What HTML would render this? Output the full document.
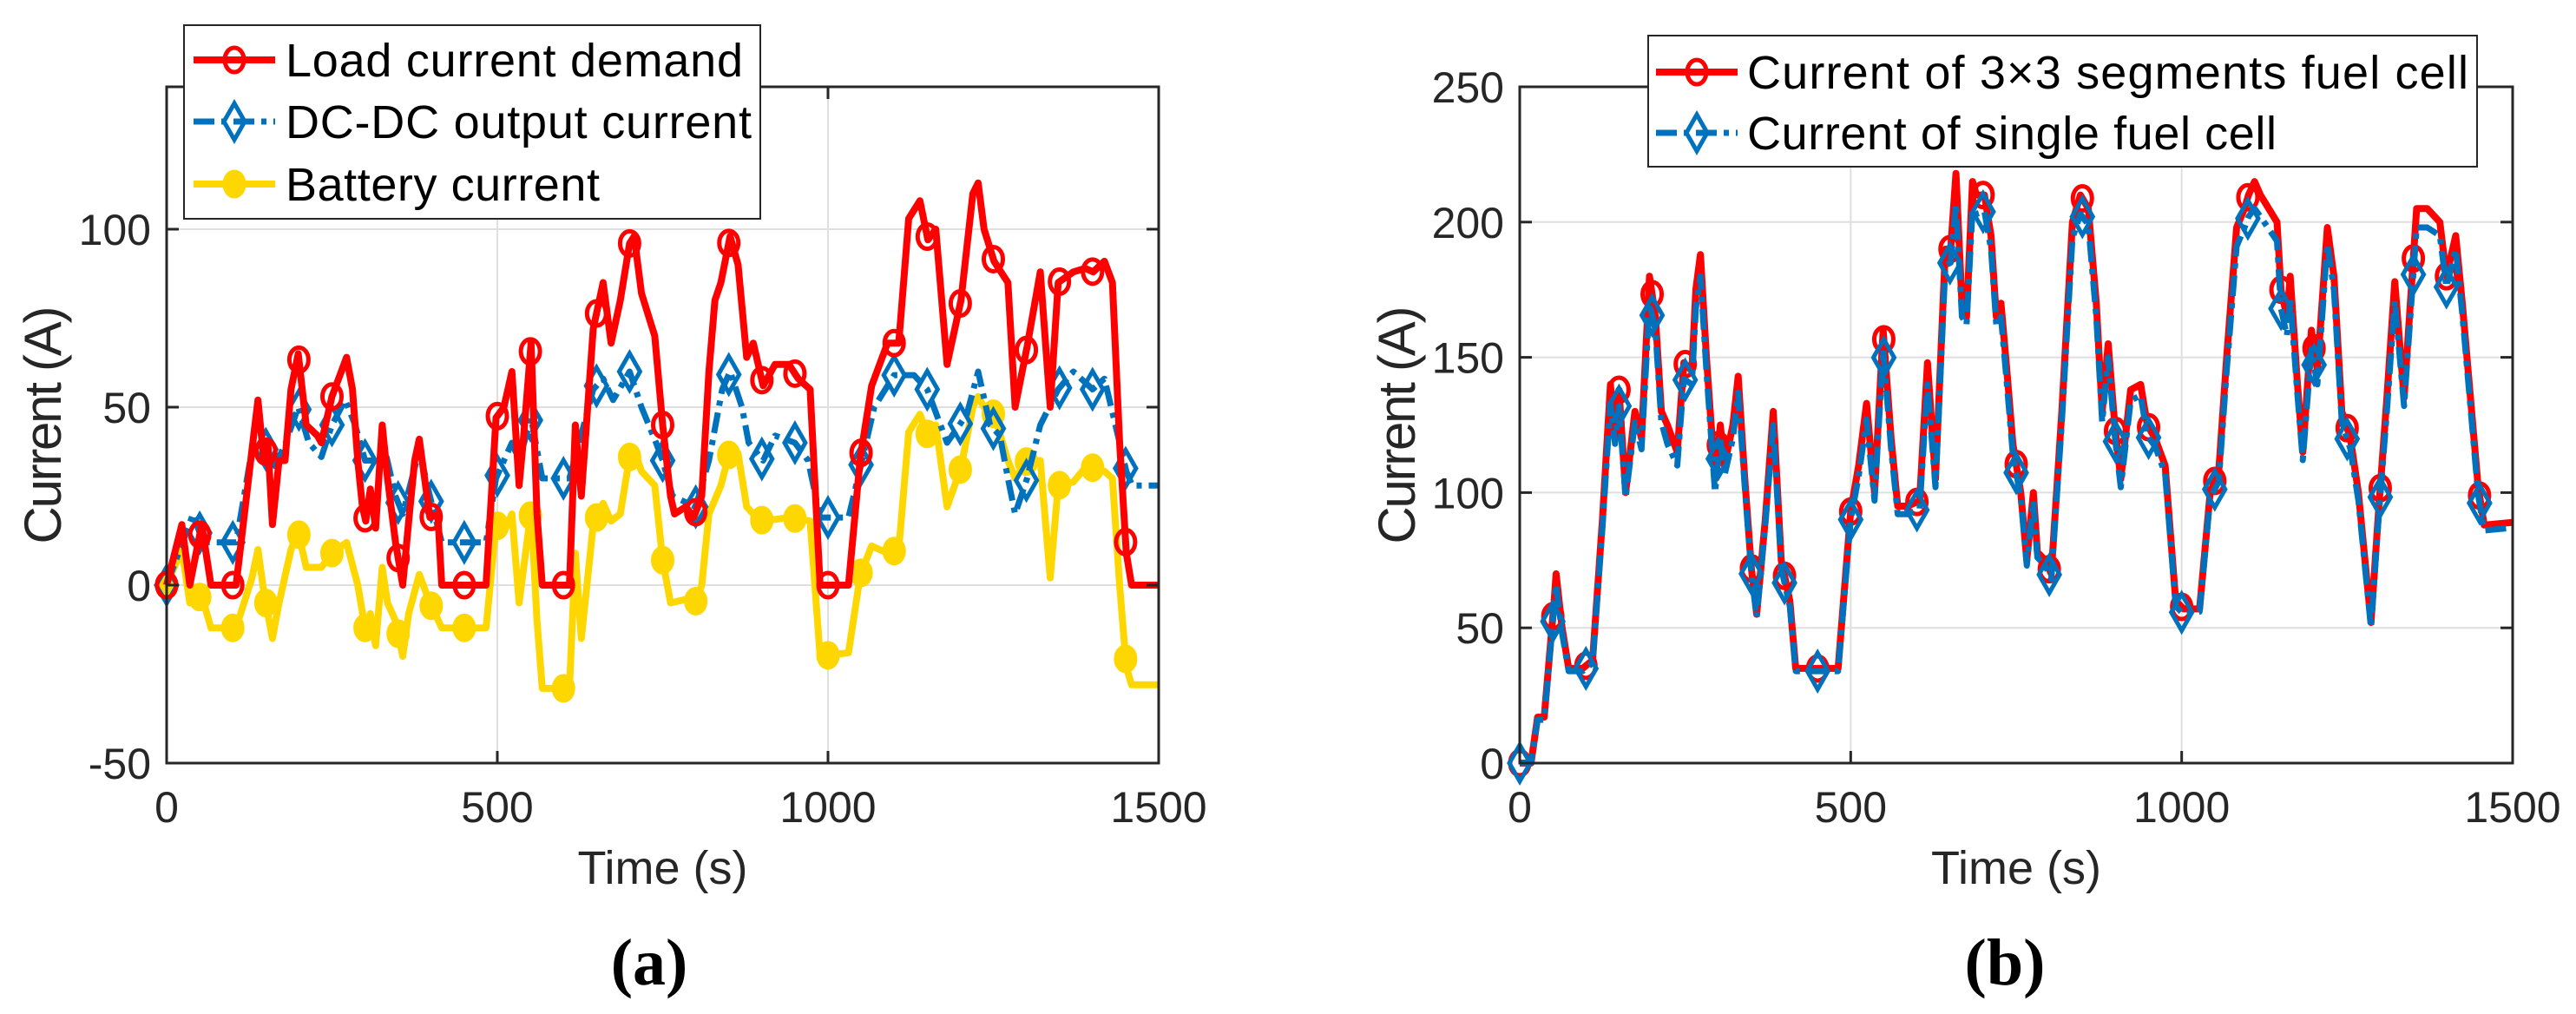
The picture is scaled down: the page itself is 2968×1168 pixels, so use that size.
<!DOCTYPE html>
<html><head><meta charset="utf-8"><style>
html,body{margin:0;padding:0;background:#fff}
svg{display:block}
text{font-family:"Liberation Sans",sans-serif;fill:#262626}
</style></head><body>
<svg id="fig" width="2968" height="1168" viewBox="0 0 2968 1168" xmlns="http://www.w3.org/2000/svg">
<g id="pa"></g>
<g id="pb"></g>
<text x="748" y="1134" text-anchor="middle" font-weight="bold" font-size="76" style="font-family:'Liberation Serif',serif;fill:#000">(a)</text>
<text x="2310" y="1134" text-anchor="middle" font-weight="bold" font-size="76" style="font-family:'Liberation Serif',serif;fill:#000">(b)</text>
</svg>
<script>
// ---- Panel (a) data ----
const loadT=[0,23,35,53,67,105,129,138,147,153,160,170,179,188,199,211,228,234,250,264,272,281,289,296,301,308,316,326,334,346,357,366,375,382,390,398,410,416,483,498,510,522,533,539,551,560,568,609,618,627,645,660,672,686,700,707,718,738,750,762,768,785,797,809,820,829,838,852,864,877,887,902,920,941,955,973,988,1031,1049,1066,1090,1107,1122,1139,1151,1163,1180,1201,1219,1227,1236,1251,1272,1283,1301,1321,1336,1348,1371,1389,1401,1418,1430,1441,1451,1459,1500];
const loadV=[0,17,0,17,0,0,38,52,35,40,17,35,35,55,65,45,42,40,53,60,64,55,35,22,18,27,16,45,30,12,0,18,35,41,30,19,20,0,0,47,50,60,28,40,68,20,0,0,45,25,72,85,68,80,96,98,82,70,45,25,20,22,19,25,60,80,85,98,90,64,68,56,62,62,58,55,0,0,36,56,68,68,103,108,97,100,62,80,110,113,100,91,85,50,67,88,50,85,88,89,88,91,85,40,9,0,0];
const dcT=[0,40,55,105,129,147,160,180,199,215,234,250,270,285,300,316,330,346,357,382,398,416,483,498,510,522,533,551,568,609,618,645,660,675,700,718,740,750,765,800,820,840,852,870,880,902,920,950,970,988,1031,1049,1070,1100,1130,1150,1180,1210,1227,1245,1260,1272,1283,1301,1321,1348,1371,1400,1418,1441,1451,1460,1500];
const dcV=[0,20,12,12,38,40,32,40,50,40,36,45,52,45,35,35,38,25,20,38,25,12,12,30,35,40,35,47,30,30,36,55,58,52,60,50,40,35,25,22,35,55,60,50,40,35,42,40,35,19,19,33,50,59,59,55,40,48,60,45,42,30,20,30,45,55,60,55,58,40,32,28,28];
const batT=[0,23,35,53,67,105,129,138,147,160,170,188,199,211,234,250,272,289,300,308,316,326,334,346,357,366,382,398,416,483,498,510,522,533,551,560,568,609,618,627,645,660,672,686,700,707,718,738,750,762,785,797,809,820,838,852,864,877,887,902,941,973,988,1031,1049,1066,1090,1107,1122,1139,1151,1163,1180,1201,1219,1227,1236,1251,1272,1283,1301,1321,1336,1348,1371,1389,1401,1418,1430,1441,1451,1459,1500];
const batV=[0,10,-5,-3,-12,-12,2,10,-2,-15,-5,10,15,5,5,9,12,0,-12,-8,-17,5,-5,-10,-20,-8,3,-5,-12,-12,17,15,20,-5,21,-10,-29,-29,9,-15,17,23,18,20,36,38,32,28,7,-5,-4,-6,0,20,28,38,37,22,20,18,19,18,-20,-19,3,11,9,10,43,48,42,45,22,33,50,53,50,48,35,30,35,35,2,28,29,33,33,32,30,0,-23,-28,-28];
const aXTicks=[0,500,1000,1500];
const aYTicks=[-50,0,50,100];
const aXLabels=["0","500","1000","1500"];
const aYLabels=["-50","0","50","100"];
// ---- Panel (b) data ----
const bT=[0,17,27,37,52,55,64,74,95,110,125,137,144,150,160,174,184,196,205,214,223,238,248,260,266,273,282,295,303,309,322,330,340,350,358,371,383,395,408,417,469,481,500,512,524,536,549,561,571,586,604,616,628,643,651,659,668,675,684,690,702,712,720,727,736,745,757,766,776,782,794,803,819,835,847,859,871,880,889,899,908,923,938,948,960,975,991,1003,1027,1043,1056,1068,1083,1095,1101,1110,1119,1144,1150,1159,1164,1175,1183,1196,1205,1220,1230,1242,1255,1267,1286,1298,1310,1322,1336,1355,1371,1390,1400,1414,1424,1448,1457,1500];
const segV=[0,0,17,17,60,70,50,35,35,38,90,140,120,138,100,130,120,180,165,130,125,115,148,145,175,188,150,105,125,110,125,143,105,72,55,90,130,75,60,35,35,35,93,110,133,100,160,120,95,95,97,148,105,190,190,218,170,165,215,210,210,195,165,170,145,118,100,75,100,78,75,70,130,200,210,205,170,130,155,125,105,138,140,125,120,110,60,57,57,100,108,150,198,205,210,215,210,200,175,165,180,140,115,160,145,198,180,130,120,100,52,95,135,178,135,205,205,200,180,195,170,102,88,89];
const singleV=[0,0,16,16,58,66,48,34,34,37,87,133,118,132,98,126,116,170,160,126,118,110,142,140,168,180,145,100,120,106,120,137,102,70,54,88,125,72,58,34,34,34,90,106,127,97,153,116,92,92,94,140,102,184,185,207,165,162,205,203,204,190,162,165,140,114,98,73,97,76,73,68,126,194,203,199,165,126,150,121,102,134,136,121,117,107,58,55,56,98,104,145,191,198,202,205,202,193,168,158,172,136,112,153,140,192,175,126,116,97,50,92,130,171,132,198,198,195,176,190,166,99,86,87];
const bXTicks=[0,500,1000,1500];
const bYTicks=[0,50,100,150,200,250];
const bXLabels=["0","500","1000","1500"];
const bYLabels=["0","50","100","150","200","250"];

const NS="http://www.w3.org/2000/svg";
function mk(parent,tag,attrs){const e=document.createElementNS(NS,tag);for(const k in attrs)e.setAttribute(k,attrs[k]);parent.appendChild(e);return e;}
function interp(T,V,t){for(let i=0;i<T.length-1;i++){if(t>=T[i]&&t<=T[i+1]){const f=(t-T[i])/((T[i+1]-T[i])||1);return V[i]+f*(V[i+1]-V[i]);}}return V[V.length-1];}

function axes(g,cfg){
  const sx=v=>cfg.x0+(v-cfg.xmin)/(cfg.xmax-cfg.xmin)*(cfg.x1-cfg.x0);
  const sy=v=>cfg.y1-(v-cfg.ymin)/(cfg.ymax-cfg.ymin)*(cfg.y1-cfg.y0);
  const grid=mk(g,'g',{});
  
  
  cfg.xt.forEach(v=>{mk(grid,'line',{x1:sx(v),x2:sx(v),y1:cfg.y0,y2:cfg.y1,stroke:'#dfdfdf','stroke-width':2});});
  cfg.yt.forEach(v=>{mk(grid,'line',{x1:cfg.x0,x2:cfg.x1,y1:sy(v),y2:sy(v),stroke:'#dfdfdf','stroke-width':2});});
  return {sx,sy};
}
function frame(g,cfg,sx,sy,prefix){
  const ax=mk(g,'g',{});
  
  
  mk(ax,'rect',{x:cfg.x0,y:cfg.y0,width:cfg.x1-cfg.x0,height:cfg.y1-cfg.y0,fill:'none',stroke:'#262626','stroke-width':3});
  cfg.xt.forEach((v,i)=>{
    mk(ax,'line',{x1:sx(v),x2:sx(v),y1:cfg.y1,y2:cfg.y1-14,stroke:'#262626','stroke-width':3});
    mk(ax,'line',{x1:sx(v),x2:sx(v),y1:cfg.y0,y2:cfg.y0+14,stroke:'#262626','stroke-width':3});
    const t=mk(ax,'text',{x:sx(v),y:cfg.y1+68,'text-anchor':'middle','font-size':50});
    
    
    t.textContent=cfg.xl[i];
  });
  cfg.yt.forEach((v,i)=>{
    mk(ax,'line',{x1:cfg.x0,x2:cfg.x0+14,y1:sy(v),y2:sy(v),stroke:'#262626','stroke-width':3});
    mk(ax,'line',{x1:cfg.x1,x2:cfg.x1-14,y1:sy(v),y2:sy(v),stroke:'#262626','stroke-width':3});
    const t=mk(ax,'text',{x:cfg.x0-18,y:sy(v)+18,'text-anchor':'end','font-size':50});
    
    
    t.textContent=cfg.yl[i];
  });
  const xt=mk(ax,'text',{x:(cfg.x0+cfg.x1)/2,y:1018,'text-anchor':'middle','font-size':54});
  
  
  xt.textContent='Time (s)';
  const yc=(cfg.y0+cfg.y1)/2;
  const yt=mk(ax,'text',{x:cfg.ylx,y:yc,'text-anchor':'middle','font-size':60,textLength:274,transform:`rotate(-90 ${cfg.ylx} ${yc})`});
  
  
  yt.textContent='Current (A)';
}
function series(g,T,V,sx,sy,style,name){
  const s=mk(g,'g',{});
  
  
  const d=T.map((t,i)=>(i?'L':'M')+sx(t).toFixed(1)+' '+sy(V[i]).toFixed(1)).join(' ');
  const p=mk(s,'path',{d:d,fill:'none',stroke:style.color,'stroke-width':style.w,'stroke-linejoin':'round'});
  if(style.dash)p.setAttribute('stroke-dasharray',style.dash);
  for(let t=0;t<=1450;t+=50){
    const x=sx(t),y=sy(interp(T,V,t));
    marker(s,x,y,style);
  }
}
function marker(s,x,y,style){
  let m;
  if(style.marker==='o'){m=mk(s,'ellipse',{cx:x,cy:y,rx:11,ry:14,fill:style.fill?style.color:'none',stroke:style.color,'stroke-width':5});}
  else{m=mk(s,'path',{d:`M${x} ${y-21} L${x+12} ${y} L${x} ${y+21} L${x-12} ${y} Z`,fill:'none',stroke:style.color,'stroke-width':5});}
  
  
}
function legend(g,box,rows,prefix){
  const L=mk(g,'g',{});
  
  
  mk(L,'rect',{x:box.x,y:box.y,width:box.w,height:box.h,fill:'#fff',stroke:'#262626','stroke-width':2});
  rows.forEach(r=>{
    const e=mk(L,'g',{});
    
    
    const ln=mk(e,'line',{x1:box.lx0,x2:box.lx1,y1:r.y,y2:r.y,stroke:r.color,'stroke-width':r.w});
    if(r.dash)ln.setAttribute('stroke-dasharray',r.dash);
    marker(e,(box.lx0+box.lx1)/2,r.y,r);
    const t=mk(e,'text',{x:box.tx,y:r.y+19,'font-size':54,fill:'#000',style:'fill:#000'});
    if(r.len)t.setAttribute('textLength',r.len);
    t.textContent=r.label;
  });
}
const RED={color:'#ff0000',w:8,marker:'o'};
const BLUE={color:'#0072bd',w:7,marker:'d',dash:'24 8 6 8'};
const YEL={color:'#ffd700',w:8,marker:'o',fill:true};

// Panel a
const ga=document.getElementById('pa');
const cfgA={x0:192,x1:1335,y0:100,y1:879,xmin:0,xmax:1500,ymin:-50,ymax:140,xt:aXTicks,yt:aYTicks,xl:aXLabels,yl:aYLabels,ylx:70};
const A=axes(ga,cfgA);
series(ga,batT,batV,A.sx,A.sy,YEL,'battery-current-line');
series(ga,dcT,dcV,A.sx,A.sy,BLUE,'dcdc-output-current-line');
series(ga,loadT,loadV,A.sx,A.sy,RED,'load-current-demand-line');
frame(ga,cfgA,A.sx,A.sy,'panel-a');
legend(ga,{x:212,y:29,w:664,h:223,lx0:223,lx1:317,tx:329},[
  Object.assign({y:69,label:'Load current demand',len:527},RED),
  Object.assign({y:140,label:'DC-DC output current',len:537},BLUE),
  Object.assign({y:212,label:'Battery current',len:362},YEL)],'panel-a');

// Panel b
const gb=document.getElementById('pb');
const cfgB={x0:1751,x1:2895,y0:100,y1:879,xmin:0,xmax:1500,ymin:0,ymax:250,xt:bXTicks,yt:bYTicks,xl:bXLabels,yl:bYLabels,ylx:1630};
const B=axes(gb,cfgB);
series(gb,bT,segV,B.sx,B.sy,RED,'segmented-fuel-cell-current-line');
series(gb,bT,singleV,B.sx,B.sy,BLUE,'single-fuel-cell-current-line');
frame(gb,cfgB,B.sx,B.sy,'panel-b');
legend(gb,{x:1899,y:41,w:955,h:151,lx0:1908,lx1:2002,tx:2013},[
  Object.assign({y:83,label:'Current of 3\u00d73 segments fuel cell',len:831},RED),
  Object.assign({y:153,label:'Current of single fuel cell',len:610},BLUE)],'panel-b');
</script>
</body></html>
